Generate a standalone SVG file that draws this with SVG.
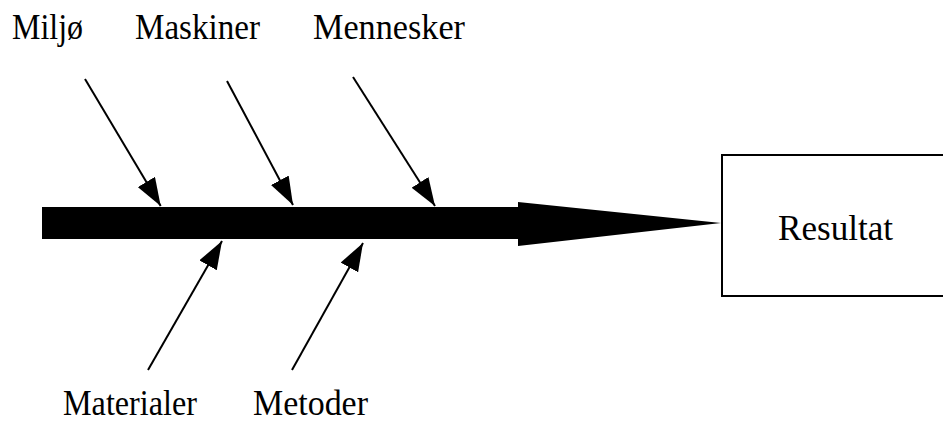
<svg xmlns="http://www.w3.org/2000/svg" width="943" height="422" viewBox="0 0 943 422">
<style>
text{font-family:"Liberation Serif","Times New Roman",serif;font-size:35px;fill:#000}
.c{stroke:#000;stroke-width:2;fill:none}
</style>
<defs>
<marker id="ah" viewBox="0 0 28 20" refX="28" refY="10" markerWidth="28" markerHeight="20" markerUnits="userSpaceOnUse" orient="auto">
<path d="M0,0 L28,10 L0,20 Z" fill="#000"/>
</marker>
</defs>
<rect width="943" height="422" fill="#fff"/>
<g id="spine">
<path d="M42,207 L518,207 L518,202 L721,223 L518,246 L518,239 L42,239 Z" fill="#000"/>
</g>
<g id="resultat">
<rect x="722" y="155" width="240" height="141" fill="#fff" stroke="#000" stroke-width="2"/>
<text x="778" y="240" textLength="115" lengthAdjust="spacingAndGlyphs">Resultat</text>
</g>
<g id="miljo"><text x="12" y="39" textLength="71" lengthAdjust="spacingAndGlyphs">Miljø</text></g>
<g id="maskiner"><text x="135" y="39" textLength="125" lengthAdjust="spacingAndGlyphs">Maskiner</text></g>
<g id="mennesker"><text x="313" y="39" textLength="152" lengthAdjust="spacingAndGlyphs">Mennesker</text></g>
<g id="materialer"><text x="63" y="415" textLength="134" lengthAdjust="spacingAndGlyphs">Materialer</text></g>
<g id="metoder"><text x="253" y="415" textLength="115" lengthAdjust="spacingAndGlyphs">Metoder</text></g>
<g id="connectors">
<line class="c" x1="85" y1="79" x2="160.7" y2="206" marker-end="url(#ah)"/>
<line class="c" x1="227" y1="81" x2="293" y2="205" marker-end="url(#ah)"/>
<line class="c" x1="353" y1="77" x2="435" y2="206" marker-end="url(#ah)"/>
<line class="c" x1="148" y1="370" x2="222" y2="241" marker-end="url(#ah)"/>
<line class="c" x1="292" y1="370" x2="363" y2="243" marker-end="url(#ah)"/>
</g>
</svg>
